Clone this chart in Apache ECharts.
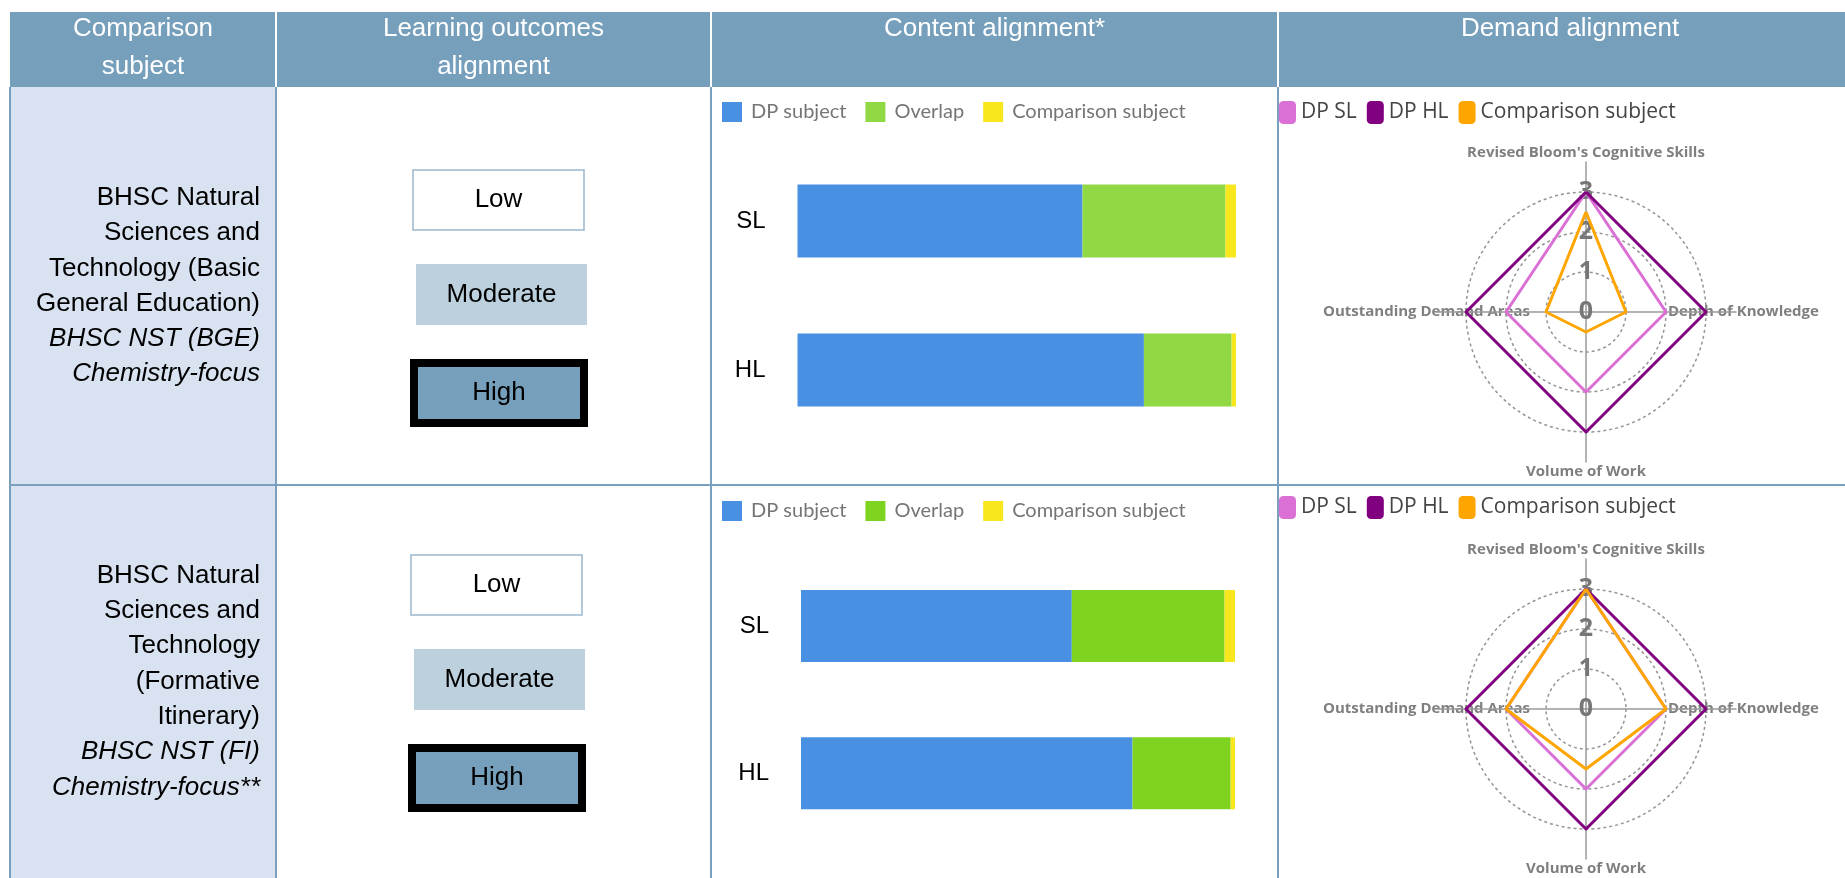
<!DOCTYPE html>
<html>
<head>
<meta charset="utf-8">
<title>Comparison subject alignment</title>
<script src="https://cdn.jsdelivr.net/npm/echarts@6/dist/echarts.min.js"></script>
<style>
html, body { margin: 0; padding: 0; background: #fff; }
#main { width: 1845px; height: 878px; }
</style>
</head>
<body>
<div id="main"></div>
<script>
// ---- table text ----
var headers = [['Comparison', 'subject'], ['Learning outcomes', 'alignment'], ['Content alignment*'], ['Demand alignment']];
var subjectLines = [
    ['BHSC Natural', 'Sciences and', 'Technology (Basic', 'General Education)'],
    ['BHSC Natural', 'Sciences and', 'Technology', '(Formative', 'Itinerary)']
];
var subjectAbbrev = [['BHSC NST (BGE)', 'Chemistry-focus'], ['BHSC NST (FI)', 'Chemistry-focus**']];
var levels = ['Low', 'Moderate', 'High'];
var outcomeLevel = ['High', 'High'];

// ---- content alignment (share of content, %) ----
var barCategories = ['SL', 'HL'];
var barNames = ['DP subject', 'Overlap', 'Comparison subject'];
var dpOnly = [[65.0, 79.0], [62.4, 76.4]];
var overlap = [[32.6, 20.0], [35.2, 22.6]];
var compOnly = [[2.4, 1.0], [2.4, 1.0]];

// ---- demand alignment (radar, counter-clockwise from top) ----
var radarAxes = ["Revised Bloom's Cognitive Skills", 'Outstanding Demand Areas', 'Volume of Work', 'Depth of Knowledge'];
var radarMax = 3;
var radarNames = ['DP SL', 'DP HL', 'Comparison subject'];
var dpSL = [[3, 2, 2, 2], [3, 2, 2, 2]];
var dpHL = [[3, 3, 3, 3], [3, 3, 3, 3]];
var compDemand = [[2.5, 1, 0.5, 1], [3, 2, 1.5, 2]];

// ---- layout ----
var COLS = [10, 276, 711, 1278, 1845];
var HEAD = [12, 87];
var ROWS = [87, 485, 878];
var LINE = '#7aa0be', HEAD_BG = '#769fbc';
var ARIAL = "'Liberation Sans', Arial, sans-serif";
var barColors = [['#4a90e2', '#90d944', '#f8e71c'], ['#4a90e2', '#7ed321', '#f8e71c']];
var radarColors = ['#da70d6', '#800080', '#ffa500'];
var levelFill = {Low: '#ffffff', Moderate: '#bdd0de', High: '#769fbc'};
var levelBox = {Low: [413, 170, 171, 60], Moderate: [416, 264, 171, 61], High: [410, 359, 178, 68]};
var rowShift = [[0, 0], [-2, 385]];
var radarCenter = [[1586, 312], [1586, 709]];
var grids = [[797.5, 146.5, 438.5, 298, 73], [801, 552.4, 434, 294.6, 72]];

function txt(x, y, s, font, fill, align) {
    return {type: 'text', x: x, y: y, silent: true,
        style: {text: s, font: font, fill: fill, align: align, verticalAlign: 'middle'}};
}
function line(x1, y1, x2, y2, c) {
    return {type: 'line', silent: true, shape: {x1: x1, y1: y1, x2: x2, y2: y2}, style: {stroke: c, lineWidth: 2}};
}

var g = [];
g.push({type: 'rect', silent: true, shape: {x: COLS[0], y: HEAD[0], width: COLS[4] - COLS[0], height: HEAD[1] - HEAD[0]}, style: {fill: HEAD_BG}});
g.push({type: 'rect', silent: true, shape: {x: COLS[0], y: HEAD[1], width: COLS[1] - COLS[0], height: ROWS[2] - HEAD[1]}, style: {fill: '#d9e2f0'}});
for (var i = 1; i < 4; i++) g.push(line(COLS[i], HEAD[0], COLS[i], HEAD[1], '#ffffff'));
for (var i = 0; i < 4; i++) g.push(line(COLS[i], HEAD[1], COLS[i], ROWS[2], LINE));
g.push(line(COLS[0], ROWS[1], COLS[4], ROWS[1], LINE));

var headX = [143, 493.5, 994.5, 1570];
headers.forEach(function (h, k) {
    h.forEach(function (s, j) {
        g.push(txt(headX[k], 29 + j * 38, s, '26px ' + ARIAL, '#ffffff', 'center'));
    });
});

[0, 1].forEach(function (r) {
    var lines = subjectLines[r].concat(subjectAbbrev[r]);
    var mid = (ROWS[r] + ROWS[r + 1]) / 2;
    lines.forEach(function (s, j) {
        var italic = j >= subjectLines[r].length;
        var y = mid + (j - (lines.length - 1) / 2) * 35.3;
        g.push(txt(260, y, s, (italic ? 'italic ' : '') + '26px ' + ARIAL, '#000000', 'right'));
    });
    levels.forEach(function (lv) {
        var b = levelBox[lv];
        var x = b[0] + rowShift[r][0], y = b[1] + rowShift[r][1];
        var sel = outcomeLevel[r] === lv;
        var st = {fill: levelFill[lv]};
        var shp = {x: x, y: y, width: b[2], height: b[3]};
        if (sel) {
            st.stroke = '#000000'; st.lineWidth = 8;
            shp = {x: x + 4, y: y + 4, width: b[2] - 8, height: b[3] - 8};
        } else if (lv === 'Low') {
            st.stroke = '#9bb7cd'; st.lineWidth = 1.5;
        }
        g.push({type: 'rect', silent: true, shape: shp, style: st});
        g.push(txt(x + b[2] / 2, y + b[3] / 2, lv, '26px ' + ARIAL, '#000000', 'center'));
    });
});

var option = {
    animation: false,
    graphic: {elements: g},
    legend: [], grid: [], xAxis: [], yAxis: [], radar: [], series: []
};

var nameFont = {color: '#7f7f7f', fontFamily: "'Open Sans', sans-serif", fontWeight: 'bold', fontSize: 15};

[0, 1].forEach(function (r) {
    var gr = grids[r];
    option.grid.push({left: gr[0], top: gr[1], width: gr[2], height: gr[3], outerBoundsMode: 'none'});
    option.xAxis.push({type: 'value', gridIndex: r, min: 0, max: 100, show: false});
    option.yAxis.push({type: 'category', gridIndex: r, inverse: true, data: barCategories,
        axisLine: {show: false}, axisTick: {show: false}, splitLine: {show: false},
        axisLabel: {color: '#000', fontFamily: ARIAL, fontSize: 24, margin: 32}});
    [dpOnly, overlap, compOnly].forEach(function (vals, k) {
        option.series.push({type: 'bar', name: barNames[k], stack: 'c' + r, xAxisIndex: r, yAxisIndex: r,
            barWidth: gr[4], silent: true, data: vals[r], itemStyle: {color: barColors[r][k]}});
    });
    option.legend.push({left: 722, top: [102, 501][r], padding: 0, itemGap: 19, itemWidth: 20, itemHeight: 20,
        icon: 'rect', selectedMode: false, itemStyle: {borderWidth: 0},
        textStyle: {color: '#757575', fontFamily: "Lato, sans-serif", fontSize: 20, padding: [0, 0, 0, 4]},
        data: barNames.map(function (n, k) { return {name: n, itemStyle: {color: barColors[r][k]}}; })});

    var c = radarCenter[r];
    // value radar: rings, tick labels, side names
    option.radar.push({
        center: c, radius: 120, shape: 'circle', splitNumber: 3, startAngle: 90,
        indicator: radarAxes.map(function (n, i) { return {name: n, min: 0, max: radarMax, axisLabel: {show: i === 0}}; }),
        axisName: Object.assign({
            formatter: function (v) { return v === radarAxes[1] ? v : (v === radarAxes[3] ? '{p|' + v + '}' : ''); },
            rich: {p: Object.assign({padding: [0, 0, 0, 26]}, nameFont)}
        }, nameFont),
        nameGap: -64,
        axisLine: {show: false}, axisTick: {show: false},
        axisLabel: {show: false, color: '#777', fontFamily: "'Open Sans', sans-serif", fontWeight: 'bold', fontSize: 25,
            align: 'center', verticalAlign: 'middle', margin: 0, showMinLabel: true, showMaxLabel: true},
        splitLine: {lineStyle: {color: '#949494', type: [3, 3], width: 1.5}},
        splitArea: {show: false}
    });
    // longer spokes plus top/bottom names
    option.radar.push({
        center: c, radius: 150, shape: 'circle', splitNumber: 3, startAngle: 90,
        indicator: radarAxes.map(function (n) { return {name: n, min: 0, max: radarMax}; }),
        axisName: Object.assign({
            formatter: function (v) { return (v === radarAxes[0] || v === radarAxes[2]) ? v : ''; }
        }, nameFont),
        nameGap: 2,
        axisLine: {show: true, lineStyle: {color: '#9a9a9a', width: 1.5}},
        axisTick: {show: false}, axisLabel: {show: false},
        splitLine: {show: false}, splitArea: {show: false}
    });
    option.series.push({type: 'radar', radarIndex: 2 * r, symbol: 'none', silent: true,
        data: [dpSL[r], dpHL[r], compDemand[r]].map(function (v, k) {
            return {name: radarNames[k], value: v,
                lineStyle: {color: radarColors[k], width: 3}, itemStyle: {color: radarColors[k]}};
        })});
    option.legend.push({left: 1279, top: [101, 496][r], padding: 0, itemGap: 10, itemWidth: 17, itemHeight: 23,
        icon: 'roundRect', selectedMode: false, itemStyle: {borderWidth: 0},
        textStyle: {color: '#444', fontFamily: "'Open Sans', sans-serif", fontSize: 21},
        data: radarNames.map(function (n, k) { return {name: n, itemStyle: {color: radarColors[k]}}; })});
});

var chart = echarts.init(document.getElementById('main'));
chart.setOption(option);
</script>
</body>
</html>
